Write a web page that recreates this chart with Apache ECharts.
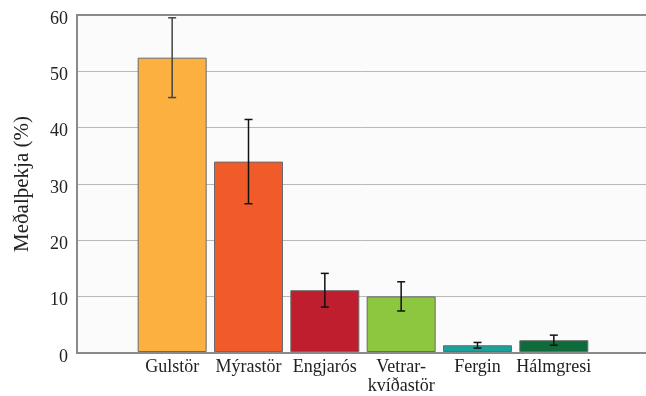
<!DOCTYPE html>
<html>
<head>
<meta charset="utf-8">
<script src="https://cdn.jsdelivr.net/npm/echarts@6/dist/echarts.min.js"></script>
<style>html,body{margin:0;padding:0;background:#fff}#c{width:646px;height:396px}</style>
</head>
<body>
<div id="c"></div>
<script>
const categories = ['Gulstör', 'Mýrastör', 'Engjarós', 'Vetrar-\nkvíðastör', 'Fergin', 'Hálmgresi'];
const means = [52.4, 33.9, 11.0, 9.9, 1.2, 2.1];
const errors = [7.1, 7.5, 3.0, 2.6, 0.5, 0.9];
const barColors = ['#FBB040', '#F15A29', '#BE1E2D', '#8DC63F', '#1AA39A', '#0F6B3B'];
const yTicks = [0, 10, 20, 30, 40, 50, 60];

const FONT = 'Liberation Serif';
const chart = echarts.init(document.getElementById('c'));
const errData = means.map((m, i) => [i, m - errors[i], m + errors[i]]);
const frameLine = {show: true, lineStyle: {color: '#8a8a8a', width: 2}};

chart.setOption({
  animation: false,
  grid: [
    {left: 77, right: 0, top: 15, bottom: 43, show: true, borderWidth: 0, backgroundColor: '#fbfbfb'},
    {left: 134, right: 54, top: 15, bottom: 43}
  ],
  xAxis: [
    {type: 'value', gridIndex: 0, position: 'bottom', min: 0, max: 1, axisLine: frameLine,
     axisTick: {show: false}, axisLabel: {show: false}, splitLine: {show: false}},
    {type: 'value', gridIndex: 0, position: 'top', min: 0, max: 1, axisLine: frameLine,
     axisTick: {show: false}, axisLabel: {show: false}, splitLine: {show: false}},
    {type: 'category', gridIndex: 1, data: categories,
     axisLine: {show: false}, axisTick: {show: false},
     axisLabel: {fontFamily: FONT, fontSize: 18, color: '#222', margin: 6, lineHeight: 19, interval: 0}}
  ],
  yAxis: [
    {type: 'value', gridIndex: 0, min: yTicks[0], max: yTicks[yTicks.length - 1], interval: 10,
     axisLine: frameLine, axisTick: {show: false},
     axisLabel: {fontFamily: FONT, fontSize: 18, color: '#222', margin: 9, verticalAlign: 'top', lineHeight: 8},
     splitLine: {lineStyle: {color: '#b8b8b8', width: 1}},
     name: 'Meðalþekja (%)', nameLocation: 'middle', nameGap: 44,
     nameTextStyle: {fontFamily: FONT, fontSize: 21, color: '#222'}},
    {type: 'value', gridIndex: 1, min: 0, max: 60, show: false}
  ],
  series: [
    {type: 'bar', xAxisIndex: 2, yAxisIndex: 1, barWidth: 69,
     data: means.map((v, i) => ({value: v, itemStyle: {color: barColors[i]}})),
     itemStyle: {borderColor: '#6a6a6a', borderWidth: 1}},
    {type: 'custom', xAxisIndex: 2, yAxisIndex: 1, data: errData, z: 10,
     renderItem: function (params, api) {
       const x = api.value(0);
       const lo = api.coord([x, api.value(1)]);
       const hi = api.coord([x, api.value(2)]);
       const hw = 4;
       const st = {stroke: params.dataIndex === 0 ? '#444' : '#111', lineWidth: 1.5};
       return {type: 'group', children: [
         {type: 'line', shape: {x1: hi[0], y1: hi[1], x2: lo[0], y2: lo[1]}, style: st},
         {type: 'line', shape: {x1: hi[0] - hw, y1: hi[1], x2: hi[0] + hw, y2: hi[1]}, style: st},
         {type: 'line', shape: {x1: lo[0] - hw, y1: lo[1], x2: lo[0] + hw, y2: lo[1]}, style: st}
       ]};
     }}
  ]
});
</script>
</body>
</html>
